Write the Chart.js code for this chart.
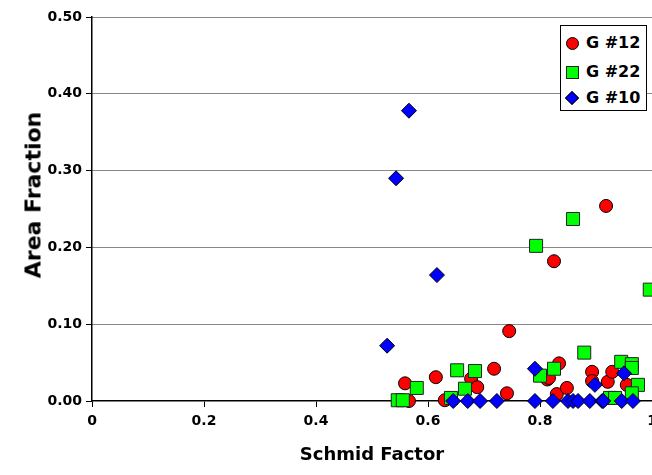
<!DOCTYPE html>
<html>
<head>
<meta charset="utf-8">
<script src="https://cdn.jsdelivr.net/npm/chart.js@4.4.0/dist/chart.umd.min.js"></script>
<style>
  html, body { margin: 0; padding: 0; background: #fff; overflow: hidden; }
  #wrap { position: relative; width: 652px; height: 475px; overflow: hidden; }
  #chart { position: absolute; left: 0; top: 0; }
  #ytitle {
    position: absolute; left: 33px; top: 195px; width: 0; height: 0;
  }
  #ytitle span {
    position: absolute; left: 0; top: 0; white-space: nowrap;
    transform: translate(-50%, -50%) rotate(-90deg);
    font: bold 22px "DejaVu Sans", sans-serif; color: #000;
  }
  #legend {
    position: absolute; left: 560px; top: 25px; width: 85px; height: 84px;
    border: 1px solid #000; background: #fff;
    font: bold 16px "DejaVu Sans", sans-serif; color: #000;
  }
  .item { position: absolute; left: 25px; height: 20px; line-height: 20px; white-space: nowrap; }
  .mk { position: absolute; box-sizing: border-box; border: 1px solid #000; }
  .mk.circle { width: 13px; height: 13px; border-radius: 50%; background: #ff0000; }
  .mk.square { width: 13px; height: 13px; background: #00ff00; border-color: #222; }
  .mk.diamond { width: 10px; height: 10px; background: #0000ff; transform: rotate(45deg); }
</style>
</head>
<body>
<div id="wrap">
  <canvas id="chart" width="700" height="475"></canvas>
  <div id="ytitle"><span>Area Fraction</span></div>
  <div id="legend"></div>
</div>
<script>
// series names
const seriesNames = ['G #12', 'G #22', 'G #10'];

// G #12 (red circles)
const g12X = [0.559, 0.566, 0.614, 0.630, 0.677, 0.688, 0.718, 0.741, 0.745, 0.813, 0.816, 0.825,
              0.834, 0.830, 0.848, 0.893, 0.893, 0.918, 0.921, 0.929, 0.955];
const g12Y = [0.023, 0.000, 0.031, 0.001, 0.029, 0.018, 0.042, 0.010, 0.091, 0.028, 0.030, 0.182,
              0.049, 0.009, 0.017, 0.038, 0.026, 0.254, 0.025, 0.038, 0.021];

// G #22 (green squares)
const g22X = [0.546, 0.555, 0.580, 0.641, 0.652, 0.666, 0.684, 0.793, 0.800, 0.825, 0.859, 0.879,
              0.925, 0.934, 0.945, 0.964, 0.964, 0.975, 0.964, 0.996];
const g22Y = [0.001, 0.001, 0.017, 0.004, 0.040, 0.016, 0.039, 0.202, 0.033, 0.042, 0.237, 0.063,
              0.004, 0.004, 0.051, 0.048, 0.043, 0.021, 0.010, 0.145];

// G #10 (blue diamonds)
const g10X = [0.527, 0.543, 0.566, 0.616, 0.645, 0.671, 0.693, 0.723, 0.791, 0.791, 0.823, 0.850,
              0.859, 0.868, 0.889, 0.898, 0.911, 0.913, 0.946, 0.950, 0.966];
const g10Y = [0.072, 0.290, 0.378, 0.164, 0.000, 0.000, 0.000, 0.000, 0.042, 0.000, 0.000, 0.000,
              0.000, 0.000, 0.000, 0.021, 0.000, 0.000, 0.000, 0.036, 0.000];

const xTickLabels = ['0', '0.2', '0.4', '0.6', '0.8', '1'];
const yTickLabels = ['0.00', '0.10', '0.20', '0.30', '0.40', '0.50'];

const toPoints = (xs, ys) => xs.map((x, i) => ({ x: x, y: ys[i] }));

const tickFont = { family: 'DejaVu Sans', size: 14, weight: 'bold' };
const titleFont = { family: 'DejaVu Sans', size: 18, weight: 'bold' };

new Chart(document.getElementById('chart'), {
    type: 'scatter',
    data: {
        datasets: [
            {
                label: seriesNames[0],
                data: toPoints(g12X, g12Y),
                pointStyle: 'circle',
                pointRadius: 6.5,
                backgroundColor: '#ff0000',
                borderColor: '#000',
                borderWidth: 1,
                order: 3,
                clip: false
            },
            {
                label: seriesNames[1],
                data: toPoints(g22X, g22Y),
                pointStyle: 'rect',
                pointRadius: 9.2,
                backgroundColor: '#00ff00',
                borderColor: '#222',
                borderWidth: 1,
                order: 2,
                clip: false
            },
            {
                label: seriesNames[2],
                data: toPoints(g10X, g10Y),
                pointStyle: 'rectRot',
                pointRadius: 7.5,
                backgroundColor: '#0000ff',
                borderColor: '#000',
                borderWidth: 1,
                order: 1,
                clip: false
            }
        ]
    },
    options: {
        responsive: false,
        animation: false,
        layout: { padding: { left: 0, top: 17, right: 48, bottom: 0 } },
        plugins: {
            legend: { display: false },
            tooltip: { enabled: false }
        },
        scales: {
            x: {
                type: 'linear',
                min: 0,
                max: 1,
                afterFit: (s) => { s.height = 74; },
                ticks: {
                    stepSize: 0.2,
                    color: '#000',
                    font: tickFont,
                    padding: 6,
                    maxRotation: 0,
                    callback: (v, i) => xTickLabels[i]
                },
                grid: {
                    drawOnChartArea: false,
                    tickLength: 6,
                    tickColor: '#000'
                },
                border: { color: '#000', width: 1.5 },
                title: {
                    display: true,
                    text: 'Schmid Factor',
                    color: '#000',
                    font: titleFont,
                    padding: { top: 0, bottom: 9 }
                }
            },
            y: {
                type: 'linear',
                min: 0,
                max: 0.5,
                afterFit: (s) => { s.width = 92; },
                ticks: {
                    stepSize: 0.1,
                    color: '#000',
                    font: tickFont,
                    padding: 4,
                    callback: (v, i) => yTickLabels[i]
                },
                grid: {
                    color: (c) => c.index === 0 ? 'rgba(0,0,0,0)' : '#111',
                    lineWidth: 1,
                    tickLength: 6,
                    tickColor: '#000',
                    tickWidth: 1
                },
                border: { color: '#000', width: 1.5, dash: [1, 1] },
                title: { display: false }
            }
        }
    }
});

// legend box inside the plot, like the original
const legendShapes = ['circle', 'square', 'diamond'];
const legendRowsY = [7, 36, 62];
const legend = document.getElementById('legend');
seriesNames.forEach((name, i) => {
    const mk = document.createElement('div');
    mk.className = 'mk ' + legendShapes[i];
    const size = legendShapes[i] === 'diamond' ? 10 : 13;
    mk.style.left = (11 - size / 2) + 'px';
    mk.style.top = (legendRowsY[i] + 10 - size / 2) + 'px';
    legend.appendChild(mk);
    const it = document.createElement('div');
    it.className = 'item';
    it.style.top = legendRowsY[i] + 'px';
    it.textContent = name;
    legend.appendChild(it);
});
</script>
</body>
</html>
